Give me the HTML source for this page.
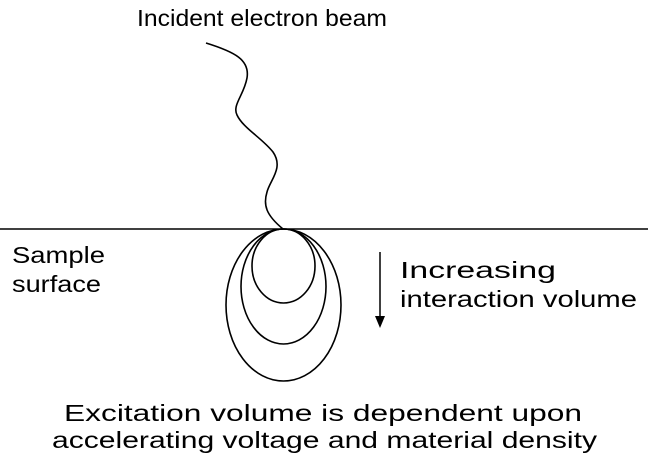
<!DOCTYPE html>
<html><head><style>
body{margin:0;background:#fff;}
svg text{font-family:"Liberation Sans",sans-serif;font-size:23px;fill:#000;}
</style></head><body>
<svg width="648" height="461" viewBox="0 0 648 461" xmlns="http://www.w3.org/2000/svg">
<line x1="0" y1="229" x2="648" y2="229" stroke="#000" stroke-width="1.5"/>
<path d="M206,43 C235,52 250,60 247,78 C244,95 232,105 237,115 C243,128 262,138 273,152 C284,168 270,180 267,192 C263,205 266,215 283,229" fill="none" stroke="#000" stroke-width="1.6"/>
<g fill="none" stroke="#000" stroke-width="1.6">
<ellipse cx="283.5" cy="266" rx="31.5" ry="37"/>
<ellipse cx="283.5" cy="286.5" rx="42.5" ry="57.5"/>
<ellipse cx="283.5" cy="305" rx="57.5" ry="76"/>
</g>
<line x1="380" y1="252" x2="380" y2="320" stroke="#000" stroke-width="1.5"/>
<path d="M375,316 L380,328 L385,316 Z" fill="#000"/>
<text x="137" y="26" textLength="250" lengthAdjust="spacingAndGlyphs">Incident electron beam</text>
<text x="12" y="263" textLength="93" lengthAdjust="spacingAndGlyphs">Sample</text>
<text x="12" y="292" textLength="89" lengthAdjust="spacingAndGlyphs">surface</text>
<text x="400" y="278" textLength="156" lengthAdjust="spacingAndGlyphs">Increasing</text>
<text x="400" y="307" textLength="237" lengthAdjust="spacingAndGlyphs">interaction volume</text>
<text x="64" y="421" textLength="518" lengthAdjust="spacingAndGlyphs">Excitation volume is dependent upon</text>
<text x="52" y="448" textLength="545" lengthAdjust="spacingAndGlyphs">accelerating voltage and material density</text>
</svg>
</body></html>
